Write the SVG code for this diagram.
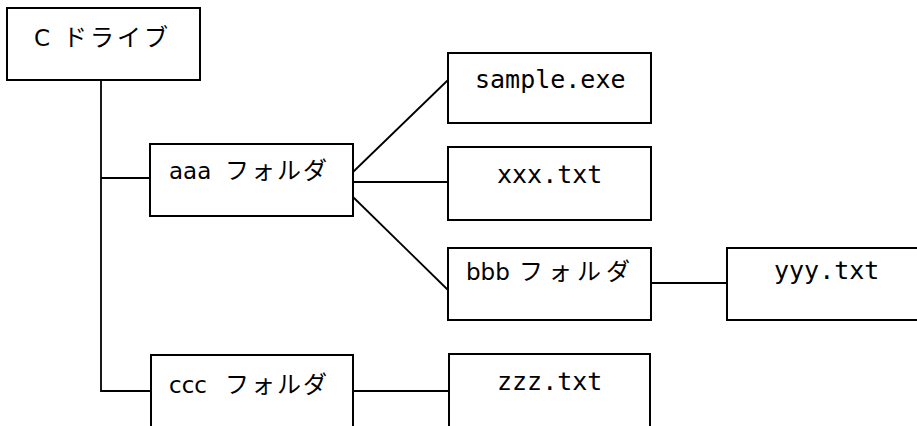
<svg xmlns="http://www.w3.org/2000/svg" width="917" height="426" viewBox="0 0 917 426">
  <style>
    .box { fill: #ffffff; stroke: #000000; stroke-width: 2; }
    .edge { fill: none; stroke: #000000; stroke-width: 1.8; }
    .jp { font-family: "DejaVu Sans", "Noto Sans CJK JP", sans-serif; font-size: 23px; fill: #000000; }
    .kana { font-family: "Noto Sans CJK JP", sans-serif; font-size: 24px; letter-spacing: 2px; }
    .loose { letter-spacing: 3px; }
    .wide { letter-spacing: 5px; }
    .mono { font-family: "DejaVu Sans Mono", "Liberation Mono", monospace; font-size: 25px; fill: #000000; }
  </style>

  <!-- connectors -->
  <g id="connectors">
    <polyline class="edge" points="101,80 101,391 151,391"/>
    <line class="edge" x1="101" y1="178" x2="150" y2="178"/>
    <line class="edge" x1="353" y1="172" x2="448" y2="80"/>
    <line class="edge" x1="353" y1="182" x2="448" y2="182"/>
    <line class="edge" x1="353" y1="197" x2="448" y2="290"/>
    <line class="edge" x1="651" y1="283" x2="727" y2="283"/>
    <line class="edge" x1="353" y1="391" x2="449" y2="391"/>
  </g>

  <!-- drive root -->
  <g id="c-drive">
    <rect class="box" x="7" y="8" width="193" height="72"/>
    <text class="jp" x="34" y="46">C<tspan class="kana loose" x="63">ドライブ</tspan></text>
  </g>

  <g id="aaa-folder">
    <rect class="box" x="150" y="144" width="203" height="72"/>
    <text class="jp" x="169" y="179">aaa<tspan class="kana" x="225">フォルダ</tspan></text>
  </g>

  <g id="sample-exe">
    <rect class="box" x="448" y="53" width="203" height="70"/>
    <text class="mono" x="475" y="88">sample.exe</text>
  </g>

  <g id="xxx-txt">
    <rect class="box" x="448" y="147" width="203" height="73"/>
    <text class="mono" x="497" y="183">xxx.txt</text>
  </g>

  <g id="bbb-folder">
    <rect class="box" x="448" y="248" width="203" height="72"/>
    <text class="jp" x="466" y="280">bbb<tspan class="kana wide" x="519">フォルダ</tspan></text>
  </g>

  <g id="yyy-txt">
    <rect class="box" x="727" y="248" width="203" height="72"/>
    <text class="mono" x="774" y="279">yyy.txt</text>
  </g>

  <g id="ccc-folder">
    <rect class="box" x="151" y="355" width="202" height="80"/>
    <text class="jp" x="169" y="393">ccc<tspan class="kana" x="225">フォルダ</tspan></text>
  </g>

  <g id="zzz-txt">
    <rect class="box" x="449" y="354" width="201" height="80"/>
    <text class="mono" x="497" y="390">zzz.txt</text>
  </g>
</svg>
